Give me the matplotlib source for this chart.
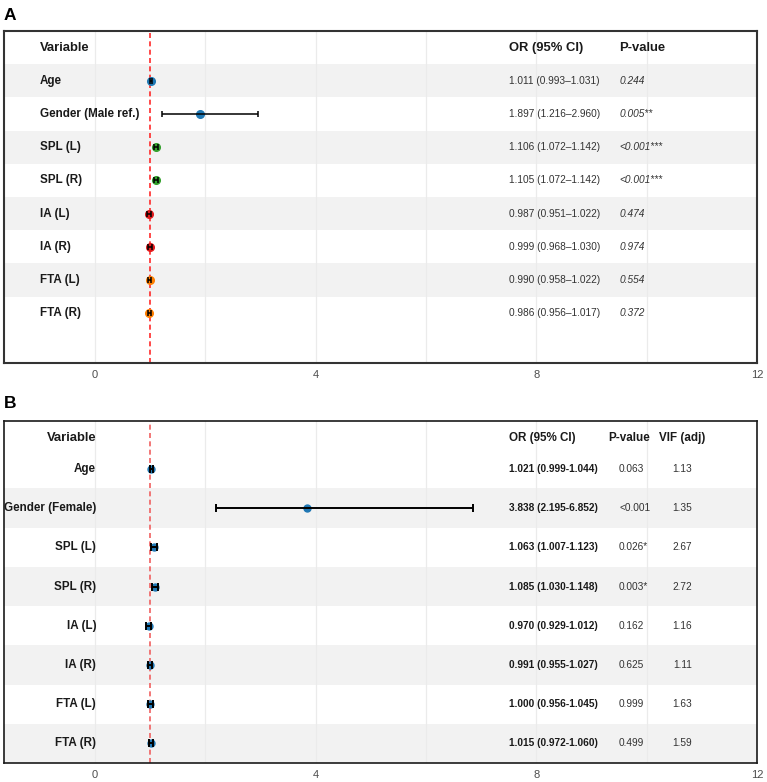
import matplotlib.pyplot as plt

plt.rcParams["font.family"] = ["Liberation Sans", "DejaVu Sans"]

# panel A: univariate
vars_a = ["Age", "Gender (Male ref.)", "SPL (L)", "SPL (R)", "IA (L)", "IA (R)", "FTA (L)", "FTA (R)"]
or_a = [1.011, 1.897, 1.106, 1.105, 0.987, 0.999, 0.990, 0.986]
lo_a = [0.993, 1.216, 1.072, 1.072, 0.951, 0.968, 0.958, 0.956]
hi_a = [1.031, 2.960, 1.142, 1.142, 1.022, 1.030, 1.022, 1.017]
p_a = ["0.244", "0.005**", "<0.001***", "<0.001***", "0.474", "0.974", "0.554", "0.372"]
col_a = ["#1f78b4", "#1f78b4", "#33a02c", "#33a02c", "#e31a1c", "#e31a1c", "#ff7f00", "#ff7f00"]

# panel B: multivariable
vars_b = ["Age", "Gender (Female)", "SPL (L)", "SPL (R)", "IA (L)", "IA (R)", "FTA (L)", "FTA (R)"]
or_b = [1.021, 3.838, 1.063, 1.085, 0.970, 0.991, 1.000, 1.015]
lo_b = [0.999, 2.195, 1.007, 1.030, 0.929, 0.955, 0.956, 0.972]
hi_b = [1.044, 6.852, 1.123, 1.148, 1.012, 1.027, 1.045, 1.060]
p_b = ["0.063", "<0.001", "0.026*", "0.003*", "0.162", "0.625", "0.999", "0.499"]
vif_b = ["1.13", "1.35", "2.67", "2.72", "1.16", "1.11", "1.63", "1.59"]

xticks = [0, 4, 8, 12]
xminor = [2, 6, 10]
XMIN, XMAX = -1.65, 12


def setup_axis(ax, n, ylim, shaded, spine_color, spine_lw):
    ax.set_xlim(XMIN, XMAX)
    ax.set_ylim(*ylim)
    ax.set_xticks(xticks)
    ax.set_xticks(xminor, minor=True)
    ax.set_yticks([])
    ax.grid(True, which="both", axis="x", color="#ebebeb", lw=0.9, zorder=0)
    ax.set_axisbelow(True)
    ax.tick_params(axis="x", which="both", length=0, pad=5, labelsize=8, labelcolor="#4d4d4d")
    for i in shaded:
        ax.axhspan(i - 0.5, i + 0.5, color="#f2f2f2", zorder=0.5, lw=0)
    for s in ax.spines.values():
        s.set_color(spine_color)
        s.set_linewidth(spine_lw)


fig = plt.figure(figsize=(7.67, 7.82), dpi=100)

# ---- A ----
axA = fig.add_axes([4 / 767, 1 - 363 / 782, 753 / 767, 332 / 782])
n = len(vars_a)
setup_axis(axA, n, (8.5, -1.5), [0, 2, 4, 6], "#333333", 1.5)
axA.axvline(1, color="#ff2a2a", lw=1.2, ls=(0, (3, 2)), zorder=2)
for i in range(n):
    axA.plot(or_a[i], i, "o", color=col_a[i], ms=5.5, zorder=3)
    axA.errorbar(or_a[i], i, xerr=[[or_a[i] - lo_a[i]], [hi_a[i] - or_a[i]]],
                 fmt="none", ecolor="black", elinewidth=1.1, capsize=2, capthick=1.1, zorder=4)
    axA.text(-1.0, i, vars_a[i], ha="left", va="center", fontsize=8.4, fontweight="bold", color="#1a1a1a")
    axA.text(7.5, i, f"{or_a[i]:.3f} ({lo_a[i]:.3f}\u2013{hi_a[i]:.3f})",
             ha="left", va="center", fontsize=7.3, color="#333333")
    axA.text(9.5, i, p_a[i], ha="left", va="center", fontsize=7.3, style="italic", color="#333333")
axA.text(-1.0, -1, "Variable", ha="left", va="center", fontsize=9.4, fontweight="bold", color="#1a1a1a")
axA.text(7.5, -1, "OR (95% CI)", ha="left", va="center", fontsize=9.4, fontweight="bold", color="#1a1a1a")
axA.text(9.5, -1, "P-value", ha="left", va="center", fontsize=9.4, fontweight="bold", color="#1a1a1a")

# ---- B ----
axB = fig.add_axes([4 / 767, 1 - 763 / 782, 753 / 767, 342 / 782])
n = len(vars_b)
setup_axis(axB, n, (7.5, -1.22), [1, 3, 5, 7], "#1a1a1a", 1.2)
axB.axvline(1, color="#f06060", lw=1.2, ls=(0, (3, 2)), zorder=2)
for i in range(n):
    axB.plot(or_b[i], i, "o", color="#1f77b4", ms=5, zorder=3)
    axB.errorbar(or_b[i], i, xerr=[[or_b[i] - lo_b[i]], [hi_b[i] - or_b[i]]],
                 fmt="none", ecolor="black", elinewidth=1.4, capsize=3, capthick=1.4, zorder=4)
    axB.text(0.02, i, vars_b[i], ha="right", va="center", fontsize=8.4, fontweight="bold", color="#1a1a1a")
    axB.text(7.5, i, f"{or_b[i]:.3f} ({lo_b[i]:.3f}-{hi_b[i]:.3f})",
             ha="left", va="center", fontsize=7.3, fontweight="bold", color="#1a1a1a")
    axB.text(9.5, i, p_b[i], ha="left", va="center", fontsize=7.3, color="#333333")
    axB.text(10.65, i, vif_b[i], ha="center", va="center", fontsize=7.3, color="#333333")
axB.text(0.02, -0.79, "Variable", ha="right", va="center", fontsize=9.4, fontweight="bold", color="#1a1a1a")
axB.text(7.5, -0.79, "OR (95% CI)", ha="left", va="center", fontsize=8.4, fontweight="bold", color="#1a1a1a")
axB.text(9.68, -0.79, "P-value", ha="center", va="center", fontsize=8.4, fontweight="bold", color="#1a1a1a")
axB.text(10.65, -0.79, "VIF (adj)", ha="center", va="center", fontsize=8.4, fontweight="bold", color="#1a1a1a")

fig.text(4 / 767, 1 - 15 / 782, "A", fontsize=12.5, fontweight="bold", ha="left", va="center")
fig.text(4 / 767, 1 - 403 / 782, "B", fontsize=12.5, fontweight="bold", ha="left", va="center")

fig.savefig("out.png", dpi=100)
